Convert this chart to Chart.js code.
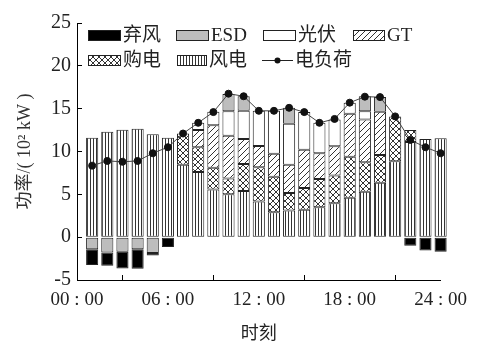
<!DOCTYPE html>
<html>
<head>
<meta charset="utf-8">
<script src="https://cdn.jsdelivr.net/npm/chart.js@4.4.0/dist/chart.umd.min.js"></script>
<style>
  html, body { margin: 0; padding: 0; background: #fff; }
  #wrap { width: 481px; height: 351px; }
</style>
</head>
<body>
<div id="wrap"><canvas id="dispatchChart" width="481" height="351"></canvas></div>
<script>
// Hourly dispatch result, unit 10^2 kW
const hours = [1, 2, 3, 4, 5, 6, 7, 8, 9, 10, 11, 12, 13, 14, 15, 16, 17, 18, 19, 20, 21, 22, 23, 24];
const windPower = [11.6, 12.3, 12.55, 12.65, 12.0, 11.6, 8.45, 7.6, 5.55, 5.0, 5.4, 4.15, 2.9, 3.1, 3.2, 3.5, 3.95, 4.6, 5.3, 6.35, 8.85, 11.1, 11.45, 11.55];
const gridPurchase = [0, 0, 0, 0, 0, 0, 3.65, 2.9, 2.55, 1.85, 3.15, 4.0, 4.15, 2.05, 2.55, 3.3, 3.25, 4.8, 3.45, 3.25, 5.25, 1.4, 0, 0];
const gasTurbine = [0, 0, 0, 0, 0, 0, 0, 2.0, 4.95, 5.0, 2.9, 2.5, 2.7, 3.3, 4.45, 3.0, 3.4, 5.0, 5.0, 5.05, 0, 0, 0, 0];
const photovoltaic = [0, 0, 0, 0, 0, 0, 0, 0.85, 1.6, 2.85, 3.3, 4.1, 5.0, 4.8, 4.4, 3.55, 3.15, 1.3, 0.95, 0, 0, 0, 0, 0];
// storage: positive = discharge, negative = charge
const storage = [-1.4, -1.8, -1.7, -1.4, -1.85, 0, 0, 0, 0, 2.0, 1.7, 0, 0, 1.85, 0, 0, 0, 0, 1.75, 1.7, 0, 0, 0, 0];
const curtailment = [-1.85, -1.55, -1.95, -2.3, -0.3, -1.15, 0, 0, 0, 0, 0, 0, 0, 0, 0, 0, 0, 0, 0, 0, 0, -1.0, -1.55, -1.7];
const load = [8.35, 8.9, 8.8, 8.9, 9.8, 10.5, 12.1, 13.35, 14.6, 16.75, 16.45, 14.75, 14.75, 15.1, 14.6, 13.35, 13.8, 15.7, 16.4, 16.35, 14.1, 11.35, 10.5, 9.8];

const timeTicks = ['00 : 00', '06 : 00', '12 : 00', '18 : 00', '24 : 00'];
const seriesNames = ['风电', '购电', 'GT', '光伏', 'ESD', '弃风', '电负荷'];

const INK = '#222';
const SERIF = '"Liberation Serif", "Noto Sans CJK SC", serif';

// Fill patterns for the black & white bar styles
function makePattern(kind) {
    const c = document.createElement('canvas');
    const size = kind === 'stripes' ? 3 : 6;
    c.width = size;
    c.height = size;
    const g = c.getContext('2d');
    g.fillStyle = '#fff';
    g.fillRect(0, 0, size, size);
    g.strokeStyle = '#333';
    g.lineWidth = 1;
    g.beginPath();
    if (kind === 'stripes') {
        g.moveTo(0.5, 0);
        g.lineTo(0.5, size);
    }
    if (kind === 'hatch' || kind === 'cross') {
        g.moveTo(-1, size + 1);
        g.lineTo(size + 1, -1);
        g.moveTo(-1, 1);
        g.lineTo(1, -1);
        g.moveTo(size - 1, size + 1);
        g.lineTo(size + 1, size - 1);
    }
    if (kind === 'cross') {
        g.moveTo(-1, -1);
        g.lineTo(size + 1, size + 1);
        g.moveTo(size - 1, -1);
        g.lineTo(size + 1, 1);
        g.moveTo(-1, size - 1);
        g.lineTo(1, size + 1);
    }
    g.stroke();
    return g.createPattern(c, 'repeat');
}

const fills = {
    wind: makePattern('stripes'),
    purchase: makePattern('cross'),
    gt: makePattern('hatch'),
    pv: '#ffffff',
    esd: '#bdbdbd',
    curtail: '#000000',
};

// empty hours are left out so no zero-height slivers get drawn
const toPoints = vals => hours
    .map((h, i) => ({ x: h, y: vals[i] }))
    .filter(p => p.y !== 0);

function barSet(label, vals, fill) {
    return {
        type: 'bar',
        label: label,
        data: toPoints(vals),
        backgroundColor: fill,
        borderColor: INK,
        borderWidth: 1,
        borderSkipped: false,
        inflateAmount: 0,
        barPercentage: 0.8,
        categoryPercentage: 1,
        clip: false,
    };
}

// Legend drawn inside the plot, two rows like the printed figure
const boxLegend = {
    id: 'boxLegend',
    afterDraw(chart) {
        const ctx = chart.ctx;
        const items = [
            { name: seriesNames[5], fill: fills.curtail, x: 88, y: 30, w: 33 },
            { name: seriesNames[4], fill: fills.esd, x: 176, y: 30, w: 33 },
            { name: seriesNames[3], fill: fills.pv, x: 263, y: 30, w: 33 },
            { name: seriesNames[2], fill: fills.gt, x: 353, y: 30, w: 32 },
            { name: seriesNames[1], fill: fills.purchase, x: 88, y: 55, w: 33 },
            { name: seriesNames[0], fill: fills.wind, x: 177, y: 55, w: 30 },
            { name: seriesNames[6], line: true, x: 262, y: 55, w: 31 },
        ];
        ctx.save();
        ctx.font = '19px ' + SERIF;
        ctx.textBaseline = 'middle';
        items.forEach(it => {
            const h = 11;
            if (it.line) {
                ctx.strokeStyle = INK;
                ctx.lineWidth = 1;
                ctx.beginPath();
                ctx.moveTo(it.x, it.y + h / 2);
                ctx.lineTo(it.x + it.w, it.y + h / 2);
                ctx.stroke();
                ctx.beginPath();
                ctx.arc(it.x + it.w / 2, it.y + h / 2, 3, 0, Math.PI * 2);
                ctx.fillStyle = '#111';
                ctx.fill();
            } else {
                ctx.fillStyle = it.fill;
                ctx.fillRect(it.x, it.y, it.w, h);
                ctx.strokeStyle = INK;
                ctx.lineWidth = 1;
                ctx.strokeRect(it.x + 0.5, it.y + 0.5, it.w - 1, h - 1);
            }
            ctx.fillStyle = INK;
            ctx.fillText(it.name, it.x + it.w + 2, it.y + h / 2 + 1);
        });
        ctx.restore();
    }
};

const ctx = document.getElementById('dispatchChart');

new Chart(ctx, {
    data: {
        datasets: [
            barSet(seriesNames[0], windPower, fills.wind),
            barSet(seriesNames[1], gridPurchase, fills.purchase),
            barSet(seriesNames[2], gasTurbine, fills.gt),
            barSet(seriesNames[3], photovoltaic, fills.pv),
            barSet(seriesNames[4], storage, fills.esd),
            barSet(seriesNames[5], curtailment, fills.curtail),
            {
                type: 'line',
                label: seriesNames[6],
                data: hours.map((h, i) => ({ x: h, y: load[i] })),
                stack: 'load',
                order: -1,
                borderColor: '#444',
                borderWidth: 1,
                pointRadius: 3.5,
                pointBackgroundColor: '#111',
                pointBorderColor: '#111',
                tension: 0,
                clip: false,
            },
        ]
    },
    options: {
        responsive: false,
        animation: false,
        layout: {
            padding: { top: 13, right: 31, left: 0, bottom: 0 }
        },
        plugins: {
            legend: { display: false },
            tooltip: { enabled: false },
        },
        scales: {
            x: {
                type: 'linear',
                min: 0,
                max: 24,
                stacked: true,
                offset: false,
                afterFit: scale => { scale.height = 71; },
                ticks: {
                    stepSize: 6,
                    padding: 14,
                    maxRotation: 0,
                    color: INK,
                    font: { family: SERIF, size: 19 },
                    callback: v => timeTicks[v / 6],
                },
                grid: {
                    drawOnChartArea: false,
                    drawTicks: true,
                    tickLength: -5,
                    color: '#000',
                },
                border: { display: true, color: '#000', width: 1 },
                title: {
                    display: true,
                    text: '时刻',
                    color: INK,
                    font: { family: SERIF, size: 18 },
                    padding: { top: 0, bottom: 6 },
                },
            },
            y: {
                min: -5,
                max: 25,
                stacked: true,
                afterFit: scale => { scale.width = 77; },
                ticks: {
                    stepSize: 5,
                    padding: 11,
                    color: INK,
                    font: { family: SERIF, size: 20 },
                },
                grid: {
                    drawOnChartArea: false,
                    drawTicks: true,
                    tickLength: -5,
                    color: '#000',
                },
                border: { display: true, color: '#000', width: 1 },
                title: {
                    display: true,
                    text: '功率/( 10² kW )',
                    color: '#333',
                    font: { family: SERIF, size: 18 },
                    padding: { top: 14, bottom: 0 },
                },
            }
        }
    },
    plugins: [boxLegend]
});
</script>
</body>
</html>
